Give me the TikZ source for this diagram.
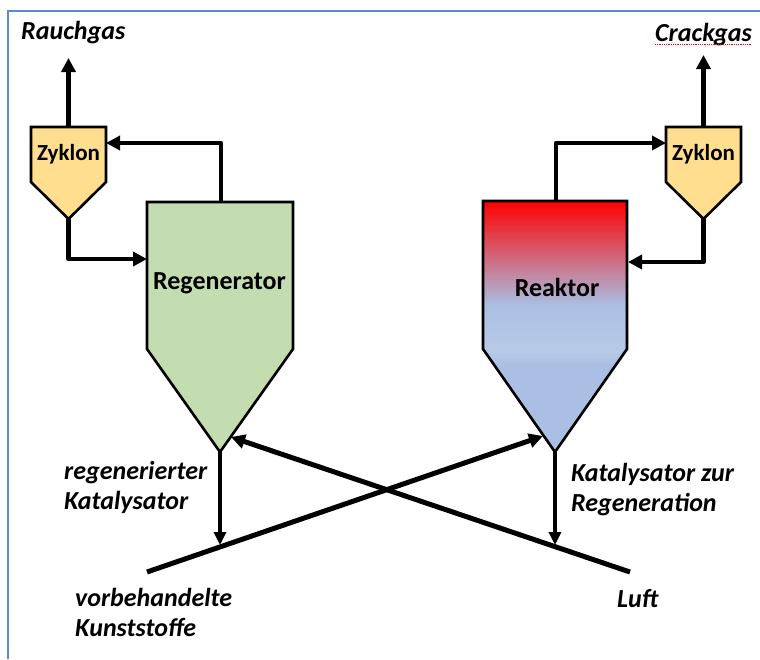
\documentclass[tikz,border=0pt]{standalone}
\usepackage{fontspec}
\setmainfont{Carlito}
\usetikzlibrary{arrows.meta}
\definecolor{framec}{HTML}{5B8BCB}
\definecolor{zyk}{HTML}{FFDE8F}
\definecolor{gre}{HTML}{C3DDB0}
\definecolor{blu}{HTML}{AABFE3}
\definecolor{blulight}{HTML}{B8CAE7}
\tikzset{
  x=1pt,y=-1pt,
  vessel/.style={draw=black,line width=2.6pt,line join=miter},
  flow/.style={line width=4.4pt,-{Triangle[length=14pt,width=14pt]},line join=round},
  thinflow/.style={line width=3.2pt,-{Triangle[length=13pt,width=12pt]}},
  feed/.style={line width=5pt,-{Triangle[length=14pt,width=14pt]}},
  lab/.style={font=\fontsize{26}{30}\selectfont\bfseries\itshape,align=left,anchor=west,inner sep=0pt},
  vname/.style={font=\fontsize{23}{26}\selectfont\bfseries,inner sep=0pt},
  vbig/.style={font=\fontsize{26}{30}\selectfont\bfseries,inner sep=0pt}
}
\begin{document}
\begin{tikzpicture}
\useasboundingbox (0,0) rectangle (760,659);
\fill[white] (0,0) rectangle (760,659);
\draw[framec,line width=2pt] (8,659) -- (8,11) -- (760,11);
% coordinates
\coordinate (zlt) at (68.5,127);
\coordinate (zlb) at (68.5,219);
\coordinate (zli) at (106,143);
\coordinate (zrt) at (703.5,127);
\coordinate (zrb) at (703.5,219);
\coordinate (zri) at (666,143);
\coordinate (regt) at (221,202);
\coordinate (regi) at (147,259);
\coordinate (regb) at (220,452);
\coordinate (reat) at (556,201);
\coordinate (reai) at (628,262);
\coordinate (reab) at (555,452);
\coordinate (outl) at (68.5,58);
\coordinate (outr) at (703.5,55);
\coordinate (jl) at (220,545);
\coordinate (jr) at (555,545);
\coordinate (fa) at (147,572);
\coordinate (fb) at (630,572);
\coordinate (ha) at (543,436);
\coordinate (hb) at (231,437);
% vessels
\draw[vessel,fill=zyk] (31,127) -- (106,127) -- (106,182) -- (zlb) -- (31,182) -- cycle;
\draw[vessel,fill=zyk] (666,127) -- (741,127) -- (741,182) -- (zrb) -- (666,182) -- cycle;
\draw[vessel,fill=gre] (147,202) -- (293,202) -- (293,349) -- (regb) -- (147,349) -- cycle;
\begin{scope}
\clip (483,201) -- (627,201) -- (627,349) -- (reab) -- (483,349) -- cycle;
\fill[blu] (483,300) rectangle (627,452);
\shade[top color=blu,bottom color=blulight] (483,305) rectangle (627,350);
\shade[top color=blulight,bottom color=blu] (483,350) rectangle (627,365);
\shade[top color=red,bottom color=blu] (483,201) rectangle (627,305);
\end{scope}
\draw[vessel] (483,201) -- (627,201) -- (627,349) -- (reab) -- (483,349) -- cycle;
% flows
\draw[flow] (zlt) -- (outl);
\draw[flow] (zrt) -- (outr);
\draw[flow] (regt) |- (zli);
\draw[flow] (zlb) |- (regi);
\draw[flow] (reat) |- (zri);
\draw[flow] (zrb) |- (reai);
\draw[thinflow] (regb) -- (jl);
\draw[thinflow] (reab) -- (jr);
\draw[feed] (fa) -- (ha);
\draw[feed] (fb) -- (hb);
% labels
\node[vname] (zl) at (68.5,154) {Zyklon};
\node[vname] (zr) at (703.5,154) {Zyklon};
\node[vbig] (rg) at (219.5,283) {Regenerator};
\node[vbig] (rk) at (557,287) {Reaktor};
\node[lab] (rauch) at (21,33) {Rauchgas};
\node[lab] (crack) at (655,35) {Crackgas};
\draw[red,line width=.8pt,densely dotted] (655,44) -- (752,44);
\node[lab] (regkat) at (64,487) {regenerierter\\Katalysator};
\node[lab] (katreg) at (571,490) {Katalysator zur\\Regeneration};
\node[lab] (kunst) at (75,612) {vorbehandelte\\Kunststoffe};
\node[lab] (luft) at (617,599) {Luft};
\end{tikzpicture}
\end{document}
